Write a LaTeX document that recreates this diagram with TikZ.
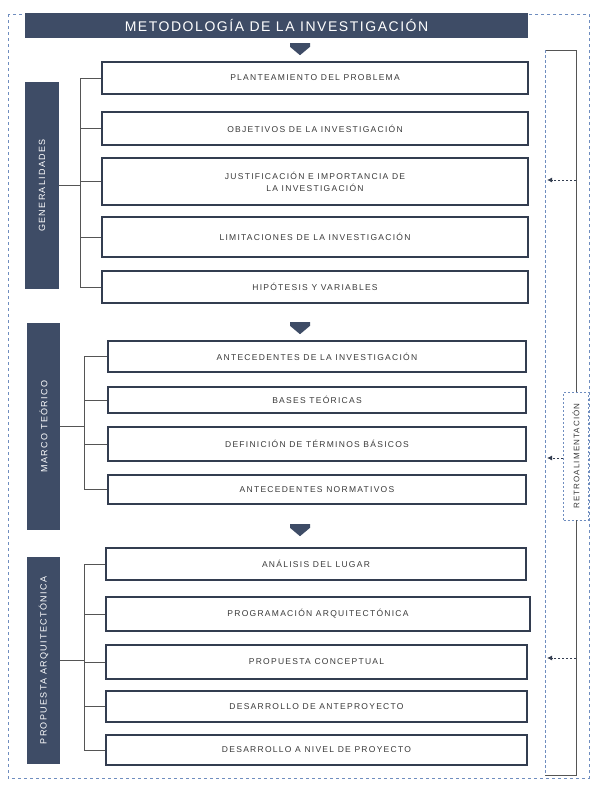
\documentclass[tikz,border=0pt]{standalone}
\usepackage{fontspec}
\setmainfont{Liberation Sans}
\newfontfamily\boxfont[LetterSpace=15]{Liberation Sans}
\newfontfamily\titlefont[LetterSpace=11]{Liberation Sans}
\newfontfamily\barfont[LetterSpace=15]{Liberation Sans}
\newfontfamily\fbfont[LetterSpace=14]{Liberation Sans}
\usetikzlibrary{arrows.meta,shapes.arrows}
\definecolor{navy}{HTML}{3E4C66}
\definecolor{boxline}{HTML}{333D50}
\definecolor{textgray}{HTML}{3A3A3A}
\definecolor{connline}{HTML}{555555}
\definecolor{dashblue}{HTML}{6F8DBF}
\newcommand{\itembox}[6]{%
  \node[item, minimum width={(#4-#2)*1pt}, minimum height={(#5-#3)*1pt}] (#1) at ({(#2+#4)/2},{(#3+#5)/2}) {#6};}
\newcommand{\barbox}[6]{%
  \node[sidebar, minimum width={(#4-#2)*1pt}, minimum height={(#5-#3)*1pt}] (#1) at ({(#2+#4)/2},{(#3+#5)/2}) {};
  \node[bartext, rotate=90] (#1t) at (#1.center) {#6};}
\begin{document}
\begin{tikzpicture}[x=1pt,y=-1pt,
  item/.style={draw=boxline, line width=1.6pt, fill=white, inner sep=0pt, align=center,
    font=\boxfont\fontsize{8.5}{12}\selectfont, text=textgray},
  sidebar/.style={fill=navy, inner sep=0pt},
  bartext/.style={text=white, font=\barfont\fontsize{9}{10}\selectfont, inner sep=0pt},
  conn/.style={draw=connline, line width=0.9pt},
  outer/.style={draw=dashblue, line width=0.9pt, dash pattern=on 3pt off 3pt},
  fbline/.style={draw=dashblue, line width=1pt, dash pattern=on 3pt off 2pt},
  fbarrow/.style={draw=boxline, line width=0.9pt, dash pattern=on 2pt off 2pt, -{Latex[length=5pt,width=5pt]}},
  downarrow/.style={single arrow, fill=navy, shape border rotate=270, minimum height=12pt,
    minimum width=20pt, single arrow head extend=0pt, single arrow tip angle=100, inner sep=0pt},
]
\useasboundingbox (0,0) rectangle (591,785);
\fill[white] (0,0) rectangle (591,785);
\draw[outer] (8,14) rectangle (589,778);

% title
\node[sidebar, minimum width=503pt, minimum height=25pt, text=white,
  font=\titlefont\fontsize{14}{15}\selectfont] (t) at (276.5,25.5) {METODOLOGÍA DE LA INVESTIGACIÓN};

% boxes
\itembox{b1}{102}{62}{528}{94}{PLANTEAMIENTO DEL PROBLEMA}
\itembox{b2}{102}{112}{528}{145}{OBJETIVOS DE LA INVESTIGACIÓN}
\itembox{b3}{102}{158}{528}{205}{JUSTIFICACIÓN E IMPORTANCIA DE\\LA INVESTIGACIÓN}
\itembox{b4}{102}{217}{528}{257}{LIMITACIONES DE LA INVESTIGACIÓN}
\itembox{b5}{102}{271}{528}{303}{HIPÓTESIS Y VARIABLES}
\itembox{b6}{108}{341}{526}{372}{ANTECEDENTES DE LA INVESTIGACIÓN}
\itembox{b7}{108}{387}{526}{413}{BASES TEÓRICAS}
\itembox{b8}{108}{427}{526}{461}{DEFINICIÓN DE TÉRMINOS BÁSICOS}
\itembox{b9}{108}{475}{526}{504}{ANTECEDENTES NORMATIVOS}
\itembox{b10}{106}{548}{526}{580}{ANÁLISIS DEL LUGAR}
\itembox{b11}{106}{597}{530}{631}{PROGRAMACIÓN ARQUITECTÓNICA}
\itembox{b12}{106}{645}{527}{679}{PROPUESTA CONCEPTUAL}
\itembox{b13}{106}{691}{527}{722}{DESARROLLO DE ANTEPROYECTO}
\itembox{b14}{106}{735}{527}{765}{DESARROLLO A NIVEL DE PROYECTO}

% side bars
\barbox{g1}{25}{82}{59}{289}{GENERALIDADES}
\barbox{g2}{27}{323}{60}{530}{MARCO TEÓRICO}
\barbox{g3}{27}{557}{60}{764}{PROPUESTA ARQUITECTÓNICA}

% down arrows
\node[downarrow] (a1) at (300,45) {};
\node[downarrow] (a2) at (300,324) {};
\node[downarrow] (a3) at (300,526) {};

% brackets
\coordinate (s1) at (80,0);
\coordinate (s2) at (84,0);
\coordinate (s3) at (84,0);
\draw[conn] (g1.east) -- (g1.east -| s1);
\draw[conn] (s1 |- b1.west) -- (s1 |- b5.west);
\foreach \b in {b1,b2,b3,b4,b5} \draw[conn] (s1 |- \b.west) -- (\b.west);
\draw[conn] (g2.east) -- (g2.east -| s2);
\draw[conn] (s2 |- b6.west) -- (s2 |- b9.west);
\foreach \b in {b6,b7,b8,b9} \draw[conn] (s2 |- \b.west) -- (\b.west);
\draw[conn] (g3.east) -- (g3.east -| s3);
\draw[conn] (s3 |- b10.west) -- (s3 |- b14.west);
\foreach \b in {b10,b11,b12,b13,b14} \draw[conn] (s3 |- \b.west) -- (\b.west);

% feedback loop
\node[draw=dashblue, line width=0.7pt, dash pattern=on 2pt off 2pt, fill=white,
  minimum width=25pt, minimum height=128pt, inner sep=0pt] (fb) at (576,456) {};
\node[rotate=90, text=textgray, font=\fbfont\fontsize{8}{10}\selectfont, inner sep=0pt] (fbt) at (fb.center) {RETROALIMENTACIÓN};
\coordinate (fTL) at (545,50);
\coordinate (fTR) at (576,50);
\coordinate (fBL) at (545,775);
\coordinate (fBR) at (576,775);
\draw[conn] (fTL) -- (fTR) -- (fb.north);
\draw[conn] (fb.south) -- (fBR) -- (fBL);
\draw[fbline] (fTL) -- (fBL);
\coordinate (r1) at (576,180);
\coordinate (r2) at (576,458);
\coordinate (r3) at (576,658);
\draw[fbarrow] (r1) -- (r1 -| 547,0);
\draw[fbarrow] (fb.west |- r2) -- (r2 -| 547,0);
\draw[fbarrow] (r3) -- (r3 -| 547,0);
\end{tikzpicture}
\end{document}
